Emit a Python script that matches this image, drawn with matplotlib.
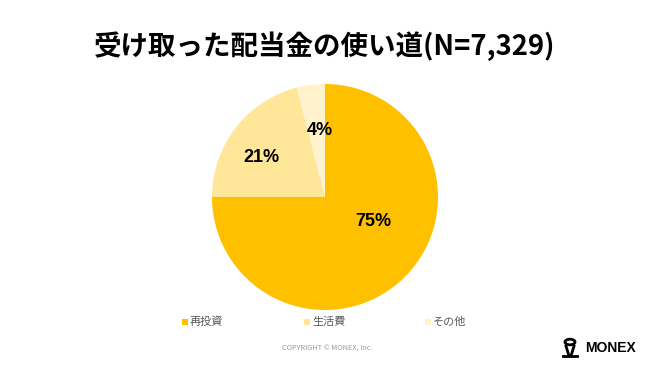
import numpy as np
import matplotlib
matplotlib.use("Agg")
import matplotlib.pyplot as plt
from matplotlib.patches import Circle, Rectangle
from matplotlib.lines import Line2D

plt.rcParams['font.family'] = ['Noto Sans CJK JP', 'DejaVu Sans']

categories = ["再投資", "生活費", "その他"]
values = [75, 21, 4]
labels_pct = ["75%", "21%", "4%"]
colors = ["#FFC000", "#FFE699", "#FFF2CC"]
title = "受け取った配当金の使い道(N=7,329)"

fig = plt.figure(figsize=(6.5, 3.66), dpi=100)
fig.patch.set_facecolor("white")

W, H = 650, 366
cx, cy, r = 325, 197, 113
ax = fig.add_axes([(cx - r) / W, 1 - (cy + r) / H, 2 * r / W, 2 * r / H])
wedges, _ = ax.pie(values, colors=colors, startangle=90, counterclock=False,
                   wedgeprops=dict(linewidth=0))
ax.set_aspect('equal')
ax.set_xlim(-1, 1)
ax.set_ylim(-1, 1)

# label placement (radius, angular offset deg) per wedge
label_r = [0.48, 0.66, 0.59]
label_off = [18, 6, -3]
for w, lab, rr, off in zip(wedges, labels_pct, label_r, label_off):
    ang = np.deg2rad((w.theta1 + w.theta2) / 2 + off)
    ax.text(rr * np.cos(ang), rr * np.sin(ang), lab, ha='center', va='center',
            fontsize=13, fontweight='bold', color='black', family=['Liberation Sans', 'DejaVu Sans'])

fig.text(0.5, 1 - 46 / H, title, ha='center', va='center', fontsize=19.8,
         fontweight='bold', color='black')

# legend
leg_x = [185, 307, 428]
leg_y = 322
for x, cat, c in zip(leg_x, categories, colors):
    fig.patches.append(Rectangle(((x - 3) / W, 1 - (leg_y + 3) / H), 6 / W, 6 / H,
                                 transform=fig.transFigure, facecolor=c, edgecolor='none'))
    fig.text((x + 5) / W, 1 - leg_y / H, cat, ha='left', va='center', fontsize=8,
             color='#595959')

fig.text(327 / W, 1 - 349 / H, "COPYRIGHT © MONEX, Inc.", ha='center', va='center',
         fontsize=5.3, color='#9a9a9a')

# MONEX logo
fig.text(585 / W, 1 - 348 / H, "MONEX", ha='left', va='center', fontsize=10,
         fontweight='bold', color='black', family=['Liberation Sans', 'DejaVu Sans'])
fig.patches.append(Circle((570 / W, 1 - 342 / H), 5 / W, transform=fig.transFigure,
                          facecolor='none', edgecolor='black', linewidth=2))
fig.lines.append(Line2D([566 / W, 569 / W], [1 - 346 / H, 1 - 356 / H], transform=fig.transFigure,
                        color='black', linewidth=2))
fig.lines.append(Line2D([574 / W, 571 / W], [1 - 346 / H, 1 - 356 / H], transform=fig.transFigure,
                        color='black', linewidth=2))
fig.lines.append(Line2D([563 / W, 577 / W], [1 - 356 / H, 1 - 356 / H], transform=fig.transFigure,
                        color='black', linewidth=2))

fig.savefig("out.png", dpi=100, facecolor='white')
